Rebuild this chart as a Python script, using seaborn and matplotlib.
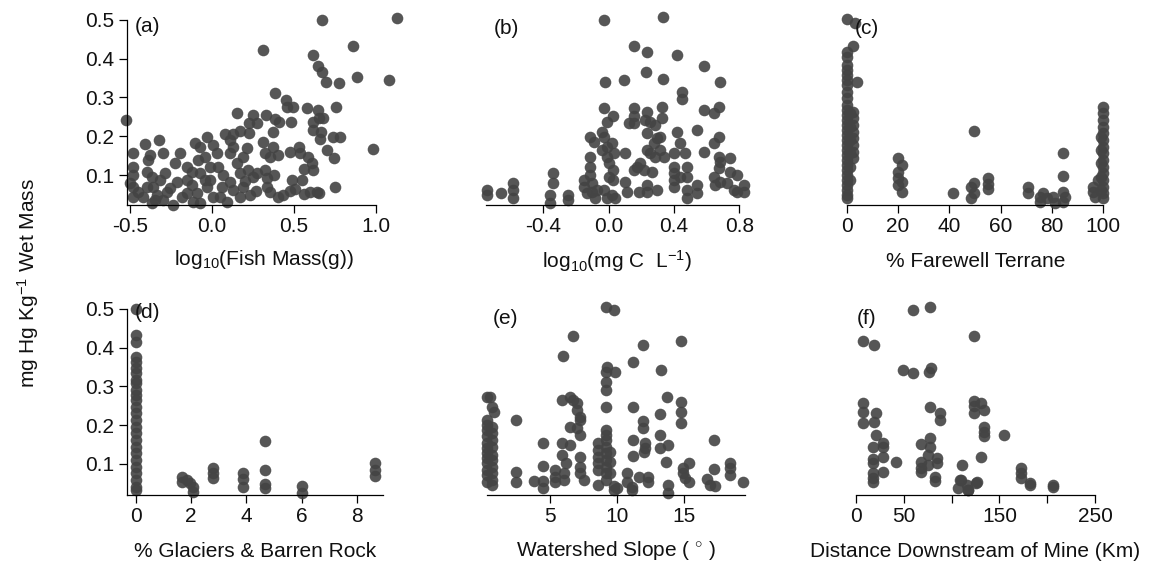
import matplotlib
matplotlib.use("Agg")
import matplotlib.pyplot as plt
import seaborn as sns

# panel (a) log10 fish mass vs Hg
a_x = [-0.524, 0.669, 1.130, 0.313, 0.614, 0.862, 0.648, 0.669, 0.695, 0.776, 0.886, 1.081, 0.386, 0.984,
       0.150, 0.252, 0.327, 0.451, 0.455, 0.496, 0.577, 0.648, 0.654, 0.675, 0.756, 0.480, 0.614, 0.618,
       0.663, 0.740, 0.781, 0.659, 0.699, 0.744, 0.386, 0.410, 0.370, 0.372, 0.402, 0.226, 0.276, 0.228,
       0.171, 0.130, 0.476, 0.537, 0.531, 0.587, 0.608, 0.614, 0.750, 0.653, 0.561, 0.598, 0.486, 0.547,
       0.506, 0.474, 0.435, 0.333, 0.354, 0.404, 0.323, 0.333, 0.272, 0.323, 0.354, 0.313,
       -0.480, -0.480, -0.480, -0.500, -0.480, -0.449, -0.419, -0.398, -0.368, -0.358, -0.348, -0.297,
       -0.276, -0.287, -0.226, -0.154, -0.195, -0.378, -0.323, -0.409, -0.388, -0.297, -0.154, -0.124,
       -0.093, -0.073, -0.033, 0.006, -0.012, -0.073, -0.154, -0.236, -0.104, -0.073, -0.028, -0.083,
       -0.043, 0.008, 0.028, 0.039, 0.110, 0.079, 0.110, 0.130, 0.150, 0.171, 0.191, 0.211, 0.222, 0.252,
       0.191, 0.130, 0.110, 0.059, 0.049, 0.089, 0.171, 0.232, -0.043, -0.114, -0.185, -0.337, -0.398,
       -0.368, -0.215, -0.256, -0.317, -0.480, 0.270, 0.380, 0.640, 0.560, -0.010, 0.070, -0.120, 0.200]
a_y = [0.242, 0.500, 0.504, 0.423, 0.410, 0.433, 0.381, 0.367, 0.341, 0.338, 0.352, 0.345, 0.312, 0.166,
       0.261, 0.255, 0.255, 0.294, 0.276, 0.275, 0.272, 0.268, 0.246, 0.246, 0.275, 0.238, 0.238, 0.216,
       0.212, 0.199, 0.199, 0.192, 0.164, 0.143, 0.244, 0.238, 0.212, 0.173, 0.152, 0.235, 0.235, 0.209,
       0.213, 0.207, 0.160, 0.156, 0.173, 0.147, 0.130, 0.113, 0.068, 0.054, 0.051, 0.057, 0.087, 0.087,
       0.065, 0.060, 0.048, 0.070, 0.057, 0.044, 0.113, 0.091, 0.104, 0.156, 0.147, 0.186,
       0.156, 0.121, 0.100, 0.079, 0.044, 0.057, 0.044, 0.109, 0.096, 0.070, 0.035, 0.035,
       0.057, 0.104, 0.130, 0.121, 0.156, 0.152, 0.190, 0.179, 0.139, 0.156, 0.087, 0.109,
       0.053, 0.027, 0.070, 0.044, 0.087, 0.104, 0.053, 0.023, 0.182, 0.173, 0.199, 0.139,
       0.147, 0.177, 0.156, 0.121, 0.156, 0.207, 0.190, 0.173, 0.130, 0.104, 0.147, 0.169, 0.113, 0.096,
       0.070, 0.061, 0.083, 0.070, 0.044, 0.031, 0.044, 0.048, 0.087, 0.031, 0.044, 0.048, 0.070,
       0.027, 0.083, 0.066, 0.087, 0.070, 0.058, 0.100, 0.056, 0.115, 0.120, 0.100, 0.075, 0.085]

# panel (b) log10 DOC vs Hg
b_x = [-0.745, -0.745, -0.659, -0.586, -0.586, -0.586, -0.341, -0.341, -0.357, -0.357, -0.251, -0.251,
       -0.153, -0.153, -0.133, -0.102, -0.102, -0.082, -0.071, -0.112, -0.092, -0.112, -0.112, -0.112,
       -0.027, -0.020, -0.027, -0.010, 0.027, -0.041, -0.027, -0.010, -0.041, -0.010, 0.020, 0.031, 0.000,
       0.027, 0.000, 0.027, -0.027, 0.020, -0.010, 0.041, 0.092, 0.153, 0.235, 0.333, 0.231, 0.333, 0.418,
       0.582, 0.680, 0.449, 0.449, 0.327, 0.153, 0.153, 0.122, 0.153, 0.235, 0.224, 0.255, 0.286, 0.327,
       0.296, 0.235, 0.102, 0.173, 0.194, 0.214, 0.153, 0.265, 0.235, 0.255, 0.276, 0.316, 0.316, 0.337,
       0.286, 0.102, 0.112, 0.184, 0.235, 0.296, 0.235, 0.398, 0.398, 0.398, 0.398, 0.398, 0.439, 0.480,
       0.480, 0.480, 0.480, 0.541, 0.541, 0.439, 0.469, 0.418, 0.541, 0.582, 0.582, 0.643, 0.673, 0.643,
       0.673, 0.673, 0.684, 0.673, 0.643, 0.684, 0.653, 0.745, 0.745, 0.786, 0.724, 0.765, 0.827, 0.786,
       0.827]
b_y = [0.061, 0.048, 0.054, 0.079, 0.061, 0.040, 0.104, 0.079, 0.048, 0.027, 0.048, 0.035,
       0.087, 0.070, 0.053, 0.079, 0.057, 0.040, 0.061, 0.199, 0.186, 0.147, 0.121, 0.100,
       0.500, 0.341, 0.272, 0.238, 0.252, 0.212, 0.199, 0.173, 0.165, 0.147, 0.182, 0.156, 0.130,
       0.113, 0.096, 0.087, 0.061, 0.048, 0.040, 0.040, 0.345, 0.433, 0.418, 0.507, 0.367, 0.349, 0.410,
       0.380, 0.341, 0.315, 0.295, 0.275, 0.272, 0.252, 0.233, 0.233, 0.263, 0.242, 0.238, 0.229, 0.246,
       0.195, 0.208, 0.156, 0.121, 0.130, 0.113, 0.113, 0.109, 0.165, 0.156, 0.182, 0.199, 0.165, 0.147,
       0.147, 0.083, 0.057, 0.057, 0.074, 0.061, 0.057, 0.156, 0.121, 0.104, 0.087, 0.070, 0.096, 0.121,
       0.096, 0.061, 0.040, 0.074, 0.053, 0.182, 0.156, 0.212, 0.216, 0.268, 0.160, 0.259, 0.276, 0.182,
       0.199, 0.147, 0.134, 0.117, 0.096, 0.083, 0.074, 0.143, 0.109, 0.100, 0.079, 0.061, 0.074, 0.057,
       0.057]

# panel (c) % Farewell terrane vs Hg
c_x = [0, 3.2, 2.3, 0, 0, 0, 0, 0, 0, 0, 0, 0, 0, 3.9,
       0, 0, 0, 0, 0, 0, 0, 0, 0, 0, 0, 0, 0, 0, 0, 0, 0, 0, 0,
       2.5, 2.5, 2.5, 2.5, 2.5, 2.5, 2.5, 2.5, 1.3, 1.3, 1.3, 1.3, 1.3, 1.3,
       20.1, 21.4, 20.1, 20.1, 21.4, 20.1, 21.4, 41.3, 49.6, 49.6, 48.3, 49.6, 48.3, 55.2, 55.2, 55.2,
       70.8, 70.8, 75.3, 76.6, 75.3, 77.9, 80.5, 81.2, 84.2, 84.2, 84.2, 85.1, 84.4, 96.1, 96.1, 96.8, 98,
       100, 100, 100, 100, 100, 100, 100, 100, 100, 100, 100, 100, 100, 100, 100,
       99, 99, 99, 99, 99]
c_y = [0.502, 0.493, 0.433, 0.418, 0.405, 0.384, 0.371, 0.358, 0.345, 0.332, 0.315, 0.298, 0.281, 0.341,
       0.268, 0.255, 0.242, 0.229, 0.216, 0.203, 0.190, 0.177, 0.165, 0.152, 0.139, 0.126, 0.113, 0.100,
       0.087, 0.074, 0.061, 0.048, 0.040,
       0.263, 0.246, 0.229, 0.212, 0.195, 0.177, 0.160, 0.143, 0.259, 0.225, 0.190, 0.156, 0.121, 0.087,
       0.143, 0.126, 0.109, 0.091, 0.083, 0.074, 0.057, 0.054, 0.214, 0.080, 0.070, 0.054, 0.040, 0.091,
       0.078, 0.063, 0.070, 0.054, 0.044, 0.053, 0.031, 0.040, 0.044, 0.029, 0.158, 0.097, 0.057, 0.044,
       0.031, 0.070, 0.057, 0.044, 0.087,
       0.275, 0.259, 0.242, 0.225, 0.208, 0.190, 0.173, 0.156, 0.139, 0.121, 0.104, 0.087, 0.070, 0.053,
       0.040, 0.199, 0.165, 0.130, 0.096, 0.061]

# panel (d) % glaciers & barren rock vs Hg
d_x = [0] * 26 + [1.66, 1.66, 1.84, 1.96, 2.05, 2.05, 2.80, 2.80, 2.80, 3.89, 3.89, 3.89,
                  4.68, 4.68, 4.68, 4.68, 6.0, 6.0, 8.66, 8.66, 8.66]
d_y = [0.499, 0.433, 0.416, 0.377, 0.364, 0.347, 0.334, 0.317, 0.308, 0.291, 0.278, 0.265, 0.248,
       0.231, 0.214, 0.196, 0.179, 0.162, 0.145, 0.128, 0.110, 0.093, 0.076, 0.059, 0.041, 0.033,
       0.067, 0.054, 0.058, 0.050, 0.041, 0.028, 0.089, 0.078, 0.063, 0.076, 0.060, 0.041,
       0.160, 0.085, 0.048, 0.037, 0.044, 0.024, 0.102, 0.085, 0.069]

# panel (e) watershed slope vs Hg
e_x = [0.27, 0.52, 0.65, 0.77,
       0.27, 0.27, 0.27, 0.27, 0.27, 0.27, 0.27, 0.27, 0.27, 0.27, 0.27, 0.27,
       0.65, 0.65, 0.65, 0.65, 0.65, 0.65, 0.65, 0.65, 0.65, 0.65,
       2.4, 2.4, 2.4, 3.76, 4.45, 4.45, 4.45, 4.45, 5.37, 5.37, 5.37, 6.0, 6.0,
       5.95, 6.7, 5.87, 6.44, 6.69, 6.99, 6.99, 7.19, 7.19, 6.44, 6.99, 7.19, 5.87, 6.5, 5.87, 6.2,
       7.19, 7.19, 7.19, 7.5, 9.18, 9.78, 9.23, 9.18, 9.85, 9.18, 9.18, 9.18,
       9.18, 9.18, 9.18, 9.18, 9.18, 9.18, 9.18, 9.18, 9.18, 8.6, 8.6, 8.6, 8.6, 8.6,
       9.43, 9.43, 9.43, 8.6, 9.78, 9.78, 9.98, 10.7, 10.7, 11.1, 11.1, 11.6, 12.3, 12.3,
       11.2, 11.9, 11.2, 11.9, 11.9, 11.2, 11.2, 12.1, 12.1, 12.0, 13.2, 13.3, 13.7, 13.2, 13.2,
       13.76, 13.66, 13.8, 13.8, 14.75, 14.75, 14.75, 14.75, 14.95, 14.95, 15.07, 15.4, 15.4,
       16.7, 16.9, 17.3, 17.2, 17.2, 18.4, 18.4, 18.4, 19.4]
e_y = [0.272, 0.272, 0.248, 0.235,
       0.214, 0.201, 0.188, 0.171, 0.153, 0.140, 0.128, 0.115, 0.102, 0.085, 0.072, 0.054,
       0.196, 0.179, 0.162, 0.145, 0.123, 0.110, 0.093, 0.076, 0.059, 0.046,
       0.214, 0.079, 0.054, 0.057, 0.155, 0.096, 0.057, 0.037, 0.085, 0.067, 0.054, 0.076, 0.059,
       0.379, 0.431, 0.265, 0.274, 0.265, 0.257, 0.239, 0.222, 0.214, 0.196, 0.192, 0.175, 0.155,
       0.149, 0.123, 0.102, 0.119, 0.093, 0.076, 0.059, 0.504, 0.497, 0.351, 0.338, 0.338, 0.312,
       0.291, 0.246, 0.188, 0.175, 0.162, 0.145, 0.128, 0.110, 0.093, 0.076, 0.059, 0.153, 0.136,
       0.119, 0.102, 0.085, 0.132, 0.106, 0.076, 0.046, 0.043, 0.033, 0.037, 0.076, 0.054, 0.041,
       0.033, 0.067, 0.067, 0.054, 0.364, 0.407, 0.246, 0.212, 0.192, 0.162, 0.121, 0.153, 0.140,
       0.132, 0.229, 0.343, 0.274, 0.175, 0.140, 0.149, 0.106, 0.046, 0.024, 0.418, 0.261, 0.235,
       0.205, 0.089, 0.076, 0.063, 0.102, 0.054, 0.060, 0.046, 0.043, 0.162, 0.086, 0.102, 0.089,
       0.072, 0.054]

# panel (f) distance downstream of mine vs Hg
f_x = [60, 77, 7.7, 18.8, 123, 49, 60, 76, 78, 7.7, 7.7, 21, 7.7, 19, 77, 88, 88, 123, 123, 123,
       131, 134, 134, 134, 134, 155, 21, 18, 28.6, 28.6, 18, 18, 28.6, 41.8, 28.6, 17.4, 17.4, 17.4,
       67.6, 77, 77, 75.7, 67.6, 67.6, 67.6, 75.7, 84.4, 84.4, 82.6, 82.6, 110.5, 131, 109.5, 107,
       115.8, 117.5, 125.5, 173, 173, 173, 182, 182, 205.7, 205.7, 109, 117, 126.6]
f_y = [0.497, 0.504, 0.418, 0.407, 0.430, 0.343, 0.336, 0.338, 0.349, 0.258, 0.235, 0.231, 0.205,
       0.209, 0.246, 0.232, 0.214, 0.263, 0.250, 0.232, 0.258, 0.239, 0.196, 0.183, 0.172, 0.175,
       0.175, 0.145, 0.153, 0.145, 0.112, 0.102, 0.119, 0.106, 0.080, 0.076, 0.063, 0.054, 0.152,
       0.166, 0.145, 0.123, 0.106, 0.089, 0.080, 0.097, 0.115, 0.102, 0.067, 0.057, 0.097, 0.117,
       0.059, 0.037, 0.046, 0.033, 0.052, 0.089, 0.076, 0.063, 0.052, 0.046, 0.046, 0.040, 0.059,
       0.033, 0.054]

xlabels = ["log$_{10}$(Fish Mass(g))", "log$_{10}$(mg C  L$^{-1}$)", "% Farewell Terrane",
           "% Glaciers & Barren Rock", "Watershed Slope ( $^{\\circ}$ )",
           "Distance Downstream of Mine (Km)"]
panel_tags = ["(a)", "(b)", "(c)", "(d)", "(e)", "(f)"]

sns.set_style("white")
plt.rcParams['font.family'] = ['Liberation Sans', 'DejaVu Sans']
plt.rcParams['mathtext.fontset'] = 'custom'
plt.rcParams['mathtext.rm'] = 'Liberation Sans'
plt.rcParams['mathtext.it'] = 'Liberation Sans:italic'
plt.rcParams['text.color'] = '#111111'

W, H = 1149, 566
FS = 15
fig = plt.figure(figsize=(W / 100, H / 100), dpi=100)
fig.patch.set_facecolor('white')


def px_axes(left, right, top, bottom):
    return fig.add_axes([left / W, 1 - bottom / H, (right - left) / W, (bottom - top) / H])


# (pixel box, xlim, x spine bounds, xticks, xtick labels, show y axis)
panels = [
    ((127, 401, 16, 205), (-0.518, 1.152), (-0.518, 1.0), [-0.5, 0.0, 0.5, 1.0], ["-0.5", "0.0", "0.5", "1.0"], True),
    ((486, 747, 16, 205), (-0.751, 0.847), (-0.751, 0.8), [-0.4, 0.0, 0.4, 0.8], ["-0.4", "0.0", "0.4", "0.8"], False),
    ((844, 1107, 16, 205), (-1.05, 101.4), (0, 100), [0, 20, 40, 60, 80, 100], ["0", "20", "40", "60", "80", "100"], False),
    ((127, 383, 305, 495), (-0.326, 8.95), (-0.326, 8.95), [0, 2, 4, 6, 8], ["0", "2", "4", "6", "8"], True),
    ((487, 745, 305, 495), (0.27, 19.55), (0.27, 19.55), [5, 10, 15], ["5", "10", "15"], False),
    ((856, 1095, 305, 495), (0, 250), (0, 250), [0, 50, 100, 150, 200, 250], ["0", "50", "", "150", "", "250"], False),
]
data = [(a_x, a_y), (b_x, b_y), (c_x, c_y), (d_x, d_y), (e_x, e_y), (f_x, f_y)]
tag_pos = [(135, 27), (494, 28), (855, 28), (135, 313), (493, 318), (857, 318)]
label_pad = [8, 8, 11, 11, 9, 11]

for i, (box, xlim, xb, xt, xtl, show_y) in enumerate(panels):
    ax = px_axes(*box)
    x, y = data[i]
    sns.scatterplot(x=x, y=y, ax=ax, color='#444444', s=70, linewidth=0, alpha=0.9,
                    clip_on=False, legend=False)
    ylo = 0.0226 if i < 3 else 0.020
    ax.set_ylim(ylo, 0.5103)
    ax.set_xlim(*xlim)
    ax.set_facecolor('none')
    for s in ['top', 'right']:
        ax.spines[s].set_visible(False)
    ax.spines['bottom'].set_bounds(*xb)
    ax.spines['bottom'].set_linewidth(0.9)
    ax.spines['bottom'].set_color('black')
    ax.set_xticks(xt)
    ax.set_xticklabels(xtl)
    if show_y:
        ax.spines['left'].set_bounds(ylo, 0.5)
        ax.spines['left'].set_linewidth(0.9)
        ax.spines['left'].set_color('black')
        ax.set_yticks([0.1, 0.2, 0.3, 0.4, 0.5])
        ax.set_yticklabels(["0.1", "0.2", "0.3", "0.4", "0.5"])
    else:
        ax.spines['left'].set_visible(False)
        ax.set_yticks([])
    ax.tick_params(direction='out', length=6, width=0.9, labelsize=FS, pad=3,
                   color='black', labelcolor='#111111', left=show_y, bottom=True)
    ax.set_xlabel(xlabels[i], fontsize=FS, labelpad=label_pad[i], color='#111111')
    ax.set_ylabel("")
    fig.text(tag_pos[i][0] / W, 1 - tag_pos[i][1] / H, panel_tags[i], fontsize=FS,
             ha='left', va='center')

fig.text(28 / W, 1 - 283 / H, "mg Hg Kg$^{-1}$ Wet Mass", rotation=90, fontsize=FS,
         ha='center', va='center')

fig.savefig("out.png", dpi=100, facecolor='white')
